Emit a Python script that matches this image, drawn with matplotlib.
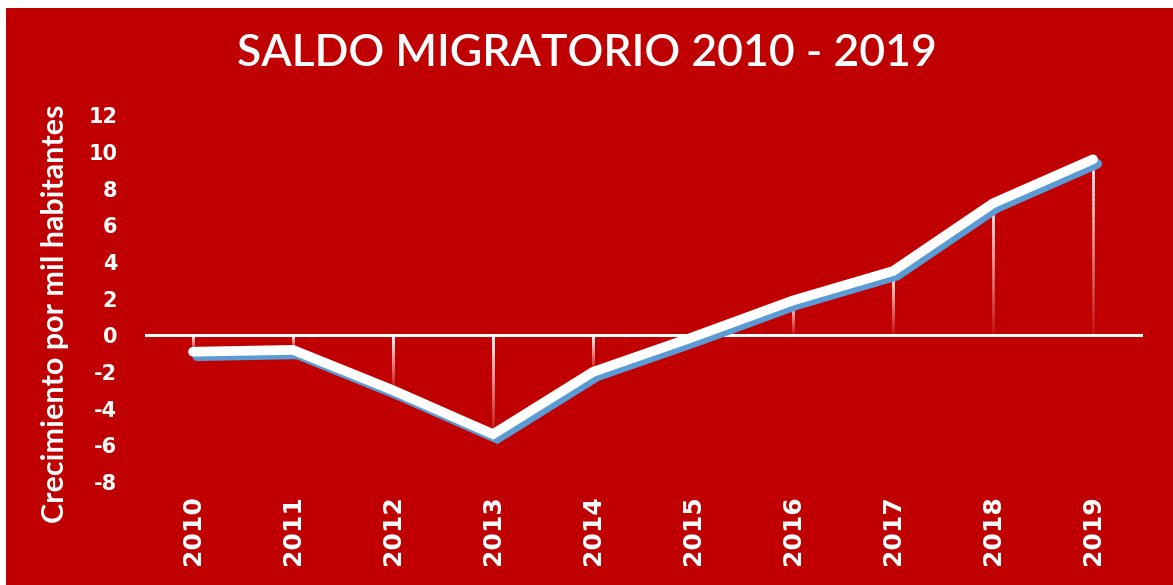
import numpy as np
import matplotlib.pyplot as plt
import matplotlib.patheffects as pe
from matplotlib.patches import Rectangle
from matplotlib.collections import LineCollection

years = ['2010', '2011', '2012', '2013', '2014', '2015', '2016', '2017', '2018', '2019']
saldo = [-0.9, -0.8, -3.0, -5.4, -2.0, -0.1, 1.9, 3.5, 7.2, 9.6]
yticks = [-8, -6, -4, -2, 0, 2, 4, 6, 8, 10, 12]

red = '#C00000'
blue = '#5B9BD5'

fig = plt.figure(figsize=(11.73, 5.85), dpi=100, facecolor='white')
# red panel with a thin white margin on the left and top
fig.patches.append(Rectangle((6 / 1173, 0), 1, 1 - 8 / 585, transform=fig.transFigure,
                             facecolor=red, edgecolor='none', zorder=-10))

ax = fig.add_axes([145 / 1173, 1 - 491 / 585, (1143 - 145) / 1173, (491 - 97) / 585])
ax.set_facecolor('none')
x = np.arange(len(years))
ax.set_xlim(-0.48, len(years) - 0.5)
ax.set_ylim(-8.5, 13)

# zero line
ax.axhline(0, color='white', lw=2.2, zorder=2)

# vertical drop lines, white at top fading downward (mixed toward the red)
segs, cols = [], []
white_rgb = np.array([1.0, 1.0, 1.0])
red_rgb = np.array([0xC0, 0x00, 0x00]) / 255
for xi, v in zip(x, saldo):
    top, bot = max(v, 0), min(v, 0)
    n = 40
    edges = np.linspace(top, bot, n + 1)
    for k in range(n):
        f = 0.95 * (1 - k / n) + 0.05
        segs.append([(xi, edges[k]), (xi, edges[k + 1])])
        cols.append(tuple(f * white_rgb + (1 - f) * red_rgb))
ax.add_collection(LineCollection(segs, colors=cols, linewidths=1.8, capstyle='projecting',
                                 zorder=1))

# main line with blue shadow
ax.plot(x, saldo, color='white', lw=7, solid_capstyle='round', solid_joinstyle='miter', zorder=4,
        path_effects=[pe.SimpleLineShadow(offset=(3, -3.2), shadow_color=blue, alpha=1, rho=1),
                      pe.Normal()])

for s in ax.spines.values():
    s.set_visible(False)
ax.set_xticks(x)
ax.set_xticklabels(years, rotation=90, color='white', fontsize=18, fontweight='bold',
                   family='DejaVu Sans')
ax.set_yticks(yticks)
ax.set_yticklabels([str(t) for t in yticks], color='white', fontsize=15, fontweight='bold',
                   family='DejaVu Sans')
ax.tick_params(axis='both', length=0)
ax.tick_params(axis='x', pad=3)
ax.tick_params(axis='y', pad=20)

fig.text(0.047, 1 - 314 / 585, 'Crecimiento por mil habitantes', rotation=90, color='white',
         fontsize=22, fontweight='bold', family='Lato', ha='center', va='center')
fig.text(0.5, 1 - 54 / 585, 'SALDO MIGRATORIO 2010 - 2019', color='white', fontsize=32,
         family='Lato', fontweight='semibold', ha='center', va='center')

fig.savefig('out.png', dpi=100, facecolor=fig.get_facecolor())
